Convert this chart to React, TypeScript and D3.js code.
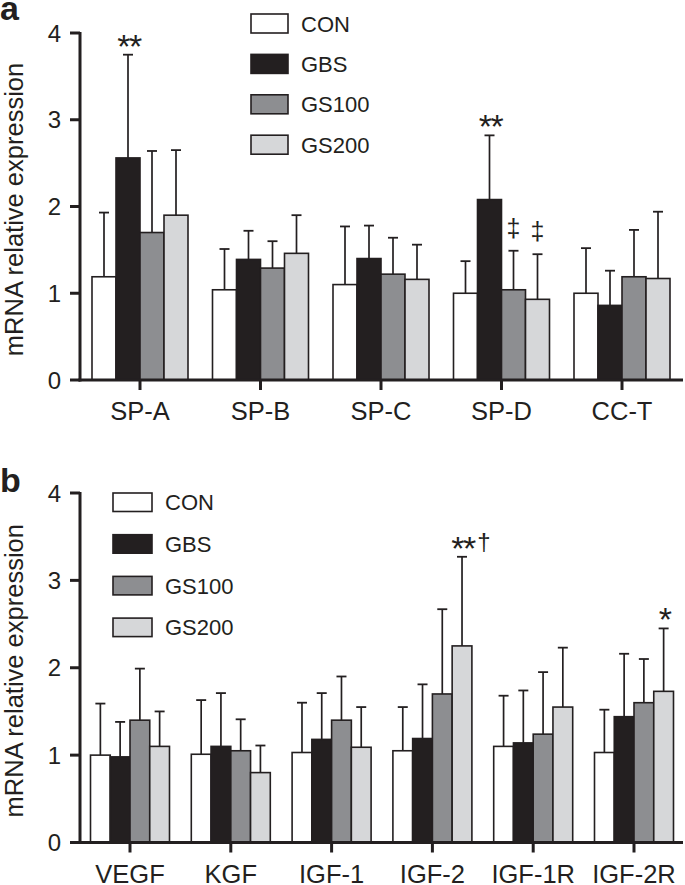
import React from "react";
import * as d3 from "d3";

const seriesNames = ["CON", "GBS", "GS100", "GS200"];
const seriesColors = ["#ffffff", "#231f20", "#8d8e91", "#d6d7d9"];

const catsA = ["SP-A", "SP-B", "SP-C", "SP-D", "CC-T"];
const meanA = [
  [1.19, 1.04, 1.1, 1.0, 1.0],
  [2.56, 1.39, 1.4, 2.08, 0.86],
  [1.7, 1.29, 1.22, 1.04, 1.19],
  [1.9, 1.46, 1.16, 0.93, 1.17],
];
const errA = [
  [1.93, 1.51, 1.77, 1.37, 1.52],
  [3.75, 1.72, 1.78, 2.82, 1.26],
  [2.64, 1.6, 1.64, 1.49, 1.73],
  [2.65, 1.9, 1.56, 1.45, 1.94],
];
const marksA = [
  { cat: "SP-A", s: 1, stars: "**", dagger: "" },
  { cat: "SP-D", s: 1, stars: "**", dagger: "" },
  { cat: "SP-D", s: 2, stars: "", dagger: "‡" },
  { cat: "SP-D", s: 3, stars: "", dagger: "‡" },
];

const catsB = ["VEGF", "KGF", "IGF-1", "IGF-2", "IGF-1R", "IGF-2R"];
const meanB = [
  [1.0, 1.01, 1.03, 1.05, 1.1, 1.03],
  [0.98, 1.1, 1.18, 1.19, 1.14, 1.44],
  [1.4, 1.05, 1.4, 1.7, 1.24, 1.6],
  [1.1, 0.8, 1.09, 2.25, 1.55, 1.73],
];
const errB = [
  [1.59, 1.63, 1.6, 1.55, 1.68, 1.52],
  [1.38, 1.71, 1.71, 1.81, 1.74, 2.16],
  [1.99, 1.41, 1.9, 2.67, 1.95, 2.1],
  [1.5, 1.11, 1.55, 3.27, 2.23, 2.45],
];
const marksB = [
  { cat: "IGF-2", s: 3, stars: "**", dagger: "†" },
  { cat: "IGF-2R", s: 3, stars: "*", dagger: "" },
];

const yTicks = [0, 1, 2, 3, 4];
const yTitle = "mRNA relative expression";

const FONT = "'Liberation Sans', Arial, Helvetica, sans-serif";
const INK = "#231f20";

type Mark = { cat: string; s: number; stars: string; dagger: string };

type PanelProps = {
  letter: string;
  letterY: number;
  cats: string[];
  mean: number[][];
  err: number[][];
  marks: Mark[];
  y0: number;
  y4: number;
  firstCenter: number;
  step: number;
  groupW: number;
  axisEnd: number;
  legendX: number;
  legendY: number;
  legendStep: number;
  legendW: number;
  legendH: number;
  labelY: number;
};

function Panel(p: PanelProps) {
  const n = p.cats.length;
  const pad = 1 - p.groupW / p.step;
  const r0 = p.firstCenter - (p.step * (1 + pad)) / 2;
  const r1 = r0 + p.step * (n + pad);
  const x = d3.scaleBand<string>().domain(p.cats).range([r0, r1]).paddingInner(pad).paddingOuter(pad);
  const xs = d3.scaleBand<string>().domain(seriesNames).range([0, x.bandwidth()]);
  const y = d3.scaleLinear().domain([0, 4]).range([p.y0, p.y4]);
  const axisX = 80;
  const cap = 5;
  const titleY = (p.y0 + p.y4) / 2 + 3;

  return (
    <g>
      <text x={0} y={p.letterY} fontFamily={FONT} fontWeight="bold" fontSize={34} fill={INK}>
        {p.letter}
      </text>
      <text
        transform={`translate(22.5,${titleY}) rotate(-90)`}
        textAnchor="middle"
        fontFamily={FONT}
        fontSize={25.5}
        fill={INK}
      >
        {yTitle}
      </text>
      {/* legend */}
      {seriesNames.map((s, i) => (
        <g key={s}>
          <rect
            x={p.legendX}
            y={p.legendY + i * p.legendStep}
            width={p.legendW}
            height={p.legendH}
            fill={seriesColors[i]}
            stroke={INK}
            strokeWidth={1.6}
          />
          <text
            x={p.legendX + p.legendW + 13}
            y={p.legendY + i * p.legendStep + p.legendH / 2 + 8}
            fontFamily={FONT}
            fontSize={22}
            fill={INK}
          >
            {s}
          </text>
        </g>
      ))}
      {/* bars */}
      {seriesNames.map((s, si) =>
        p.cats.map((c, ci) => {
          const bx = (x(c) as number) + (xs(s) as number);
          const bw = xs.bandwidth();
          const cx = bx + bw / 2;
          return (
            <g key={s + c}>
              <line x1={cx} x2={cx} y1={y(p.mean[si][ci])} y2={y(p.err[si][ci])} stroke={INK} strokeWidth={1.7} />
              <line x1={cx - cap} x2={cx + cap} y1={y(p.err[si][ci])} y2={y(p.err[si][ci])} stroke={INK} strokeWidth={1.8} />
              <rect
                x={bx}
                y={y(p.mean[si][ci])}
                width={bw}
                height={p.y0 - y(p.mean[si][ci])}
                fill={seriesColors[si]}
                stroke={INK}
                strokeWidth={1.6}
              />
            </g>
          );
        })
      )}
      {/* significance marks */}
      {p.marks.map((m, i) => {
        const ci = p.cats.indexOf(m.cat);
        const cx = (x(m.cat) as number) + (xs(seriesNames[m.s]) as number) + xs.bandwidth() / 2;
        const top = y(p.err[m.s][ci]);
        return (
          <g key={i}>
            {m.stars && (
              <text
                x={cx + 1}
                y={top + 3}
                textAnchor="middle"
                fontFamily={FONT}
                fontSize={34}
                letterSpacing={-1.5}
                fill={INK}
              >
                {m.stars}
              </text>
            )}
            {m.dagger && (
              <text
                x={m.stars ? cx + 22 : cx}
                y={m.stars ? top - 7 : top - 14}
                textAnchor="middle"
                fontFamily={FONT}
                fontSize={m.stars ? 24 : 25}
                fill={INK}
              >
                {m.dagger}
              </text>
            )}
          </g>
        );
      })}
      {/* axes */}
      <line x1={axisX} x2={axisX} y1={p.y4 - 1} y2={p.y0 + 1.5} stroke={INK} strokeWidth={3} />
      <line x1={axisX - 1.5} x2={p.axisEnd} y1={p.y0} y2={p.y0} stroke={INK} strokeWidth={3} />
      {yTicks.map((t) => (
        <g key={t}>
          <line x1={axisX - 10} x2={axisX} y1={y(t)} y2={y(t)} stroke={INK} strokeWidth={3} />
          <text x={axisX - 19} y={y(t) + 8.5} textAnchor="end" fontFamily={FONT} fontSize={24} fill={INK}>
            {t}
          </text>
        </g>
      ))}
      {p.cats.map((c) => {
        const cx = (x(c) as number) + x.bandwidth() / 2;
        return (
          <g key={c}>
            <line x1={cx} x2={cx} y1={p.y0} y2={p.y0 + 10} stroke={INK} strokeWidth={3} />
            <text x={cx} y={p.labelY} textAnchor="middle" fontFamily={FONT} fontSize={25.5} fill={INK}>
              {c}
            </text>
          </g>
        );
      })}
    </g>
  );
}

export default function App() {
  return (
    <svg
      width={685}
      height={885}
      viewBox="0 0 685 885"
      style={{ position: "absolute", left: 0, top: 0, background: "#fff" }}
    >
      <rect x={0} y={0} width={685} height={885} fill="#fff" />
      <Panel
        letter="a"
        letterY={20}
        cats={catsA}
        mean={meanA}
        err={errA}
        marks={marksA}
        y0={380}
        y4={33}
        firstCenter={140}
        step={120.5}
        groupW={96}
        axisEnd={683}
        legendX={251}
        legendY={14}
        legendStep={40.4}
        legendW={37}
        legendH={19}
        labelY={420}
      />
      <Panel
        letter="b"
        letterY={492}
        cats={catsB}
        mean={meanB}
        err={errB}
        marks={marksB}
        y0={842.5}
        y4={493}
        firstCenter={130}
        step={100.8}
        groupW={79}
        axisEnd={683}
        legendX={113}
        legendY={493}
        legendStep={41.7}
        legendW={39}
        legendH={18.5}
        labelY={883}
      />
    </svg>
  );
}
